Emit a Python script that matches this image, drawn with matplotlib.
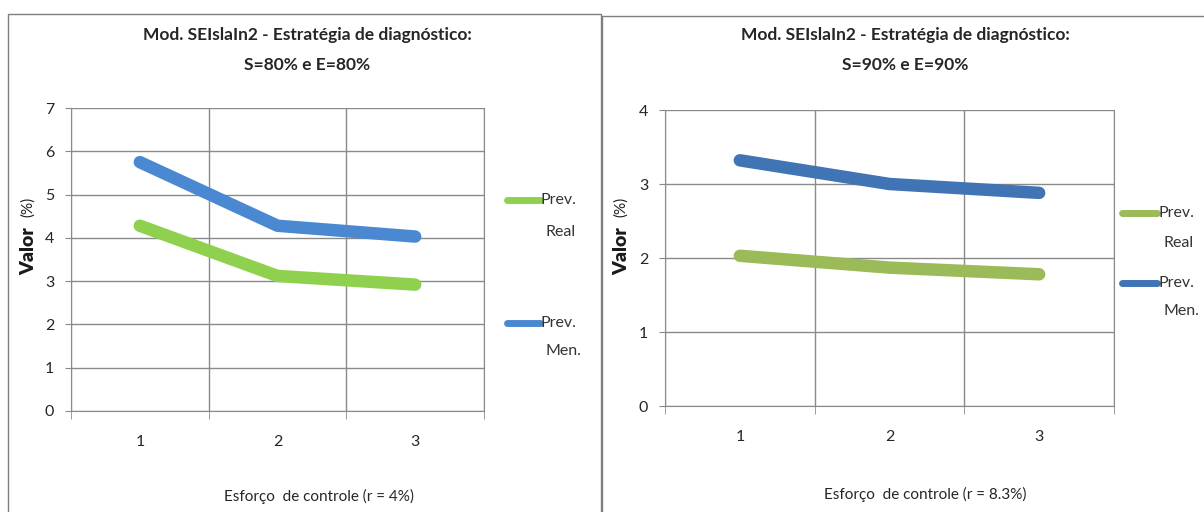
import matplotlib.pyplot as plt
import matplotlib.patches as mpatches
from matplotlib.lines import Line2D

# === DATA ===
categories = ["1", "2", "3"]
left_real = [4.28, 3.12, 2.92]
left_men = [5.75, 4.28, 4.03]
right_real = [2.03, 1.87, 1.78]
right_men = [3.32, 3.00, 2.88]

left_title = ["Mod. SEIslaIn2 - Estratégia de diagnóstico:", "S=80% e E=80%"]
right_title = ["Mod. SEIslaIn2 - Estratégia de diagnóstico:", "S=90% e E=90%"]
left_xlabel = "Esforço  de controle (r = 4%)"
right_xlabel = "Esforço  de controle (r = 8.3%)"
legend_labels = [("Prev.", "Real"), ("Prev.", "Men.")]

plt.rcParams["font.family"] = ["Lato", "DejaVu Sans"]

W, H = 1204, 512
GRID = "#8a8a8a"
TXT = "#262626"

fig = plt.figure(figsize=(W / 100, H / 100), dpi=100)

# panel borders
fig.patches.append(mpatches.Rectangle((8 / W, -0.01), 593 / W, (H - 14) / H + 0.01,
                                      transform=fig.transFigure, fill=False,
                                      edgecolor="#7f7f7f", linewidth=1.0))
fig.patches.append(mpatches.Rectangle((602 / W, -0.01), 0.6, (H - 16) / H + 0.01,
                                      transform=fig.transFigure, fill=False,
                                      edgecolor="#7f7f7f", linewidth=1.0))


def px(x, y):
    return x / W, 1 - y / H


def draw_panel(ax, real, men, ymax, c_real, c_men, title, xlabel, leg, title_x, xlabel_pos, ylab_x):
    x = range(1, len(categories) + 1)
    ax.plot(x, real, color=c_real, lw=9, solid_capstyle="round", solid_joinstyle="round", zorder=3)
    ax.plot(x, men, color=c_men, lw=9, solid_capstyle="round", solid_joinstyle="round", zorder=3)

    ax.set_xlim(0.5, len(categories) + 0.5)
    ax.set_ylim(0, ymax)
    ax.set_yticks(range(0, ymax + 1))
    ax.set_xticks(list(x))
    ax.set_xticklabels(categories)
    ax.set_xticks([i + 0.5 for i in range(0, len(categories) + 1)], minor=True)
    ax.tick_params(axis="x", which="major", length=0, pad=17, labelsize=11.5, labelcolor=TXT)
    ax.tick_params(axis="x", which="minor", length=6, color=GRID, direction="out")
    ax.tick_params(axis="y", length=4, color=GRID, labelsize=11.5, labelcolor=TXT, pad=8)

    ax.grid(axis="y", which="major", color=GRID, lw=1.0)
    ax.grid(axis="x", which="minor", color=GRID, lw=1.0)
    ax.spines["top"].set_visible(False)
    for s in ["left", "bottom", "right"]:
        ax.spines[s].set_color(GRID)
    ax.set_axisbelow(True)

    fig.text(*px(title_x, 35), title[0], ha="center", va="center",
             fontsize=12.5, fontweight="bold", color=TXT)
    fig.text(*px(title_x, 65), title[1], ha="center", va="center",
             fontsize=12.5, fontweight="bold", color=TXT)
    fig.text(*px(*xlabel_pos), xlabel, ha="center", va="center", fontsize=11, color=TXT)

    # y label: bold "Valor" and lighter "(%)"
    fig.text(*px(ylab_x, 251), "Valor", rotation=90, ha="center", va="center",
             fontsize=14, fontweight="heavy", color="#1a1a1a")
    fig.text(*px(ylab_x - 1, 207), "(%)", rotation=90, ha="center", va="center",
             fontsize=11, color="#1a1a1a")

    # legend
    for (top, bottom), color, (yl, yl2) in zip(legend_labels, [c_real, c_men], leg["ys"]):
        ax.add_line(Line2D(leg["x"], [yl, yl], transform=ax.transAxes, color=color,
                           lw=5, solid_capstyle="round", clip_on=False))
        ax.text(leg["x"][1] + 0.002, yl, top, transform=ax.transAxes, ha="left",
                va="center", fontsize=11.5, color="#333333")
        ax.text(leg["x"][1] + 0.014, yl2, bottom, transform=ax.transAxes, ha="left",
                va="center", fontsize=11.5, color="#333333")


ax1 = fig.add_axes([71 / W, (H - 411) / H, 413 / W, 303 / H])
draw_panel(ax1, left_real, left_men, 7, "#8fd14f", "#4a89d2", left_title, left_xlabel,
           {"x": [1.056, 1.136], "ys": [(0.696, 0.59), (0.29, 0.198)]},
           307, (319, 496), 29)

ax2 = fig.add_axes([665 / W, (H - 406) / H, 449 / W, 296 / H])
draw_panel(ax2, right_real, right_men, 4, "#9bbb59", "#4174b4", right_title, right_xlabel,
           {"x": [1.018, 1.096], "ys": [(0.652, 0.55), (0.415, 0.32)]},
           905, (925, 494), 622)

fig.savefig("out.png", dpi=100, facecolor="white")
